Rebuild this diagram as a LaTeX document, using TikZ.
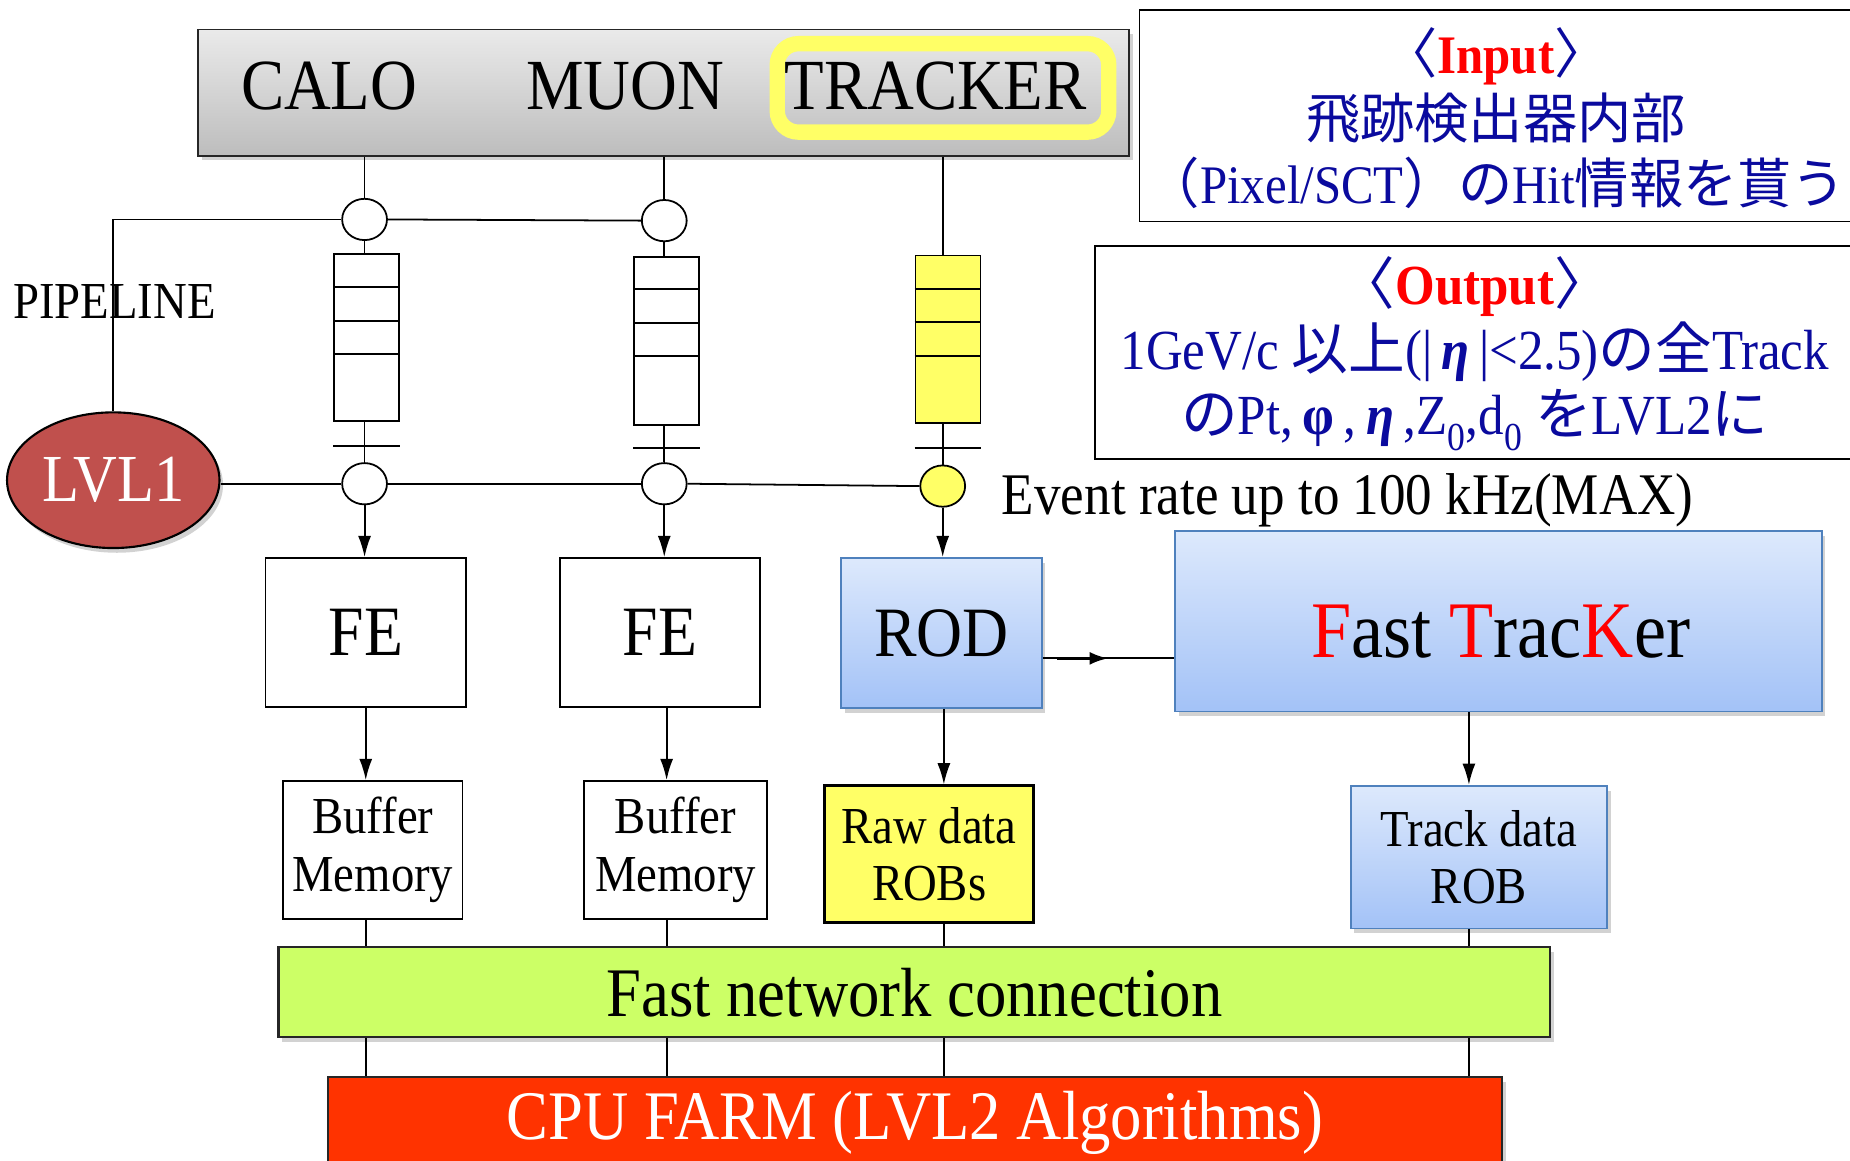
\documentclass[tikz,border=0pt]{standalone}
\usepackage{fontspec}
\setmainfont[FakeStretch=0.9]{Liberation Serif}
\newfontfamily\cjk{Noto Sans CJK JP}
\usetikzlibrary{shapes.geometric,arrows.meta,shadows,calc}
\definecolor{grayA}{HTML}{EAEAEA}
\definecolor{grayB}{HTML}{BDBDBD}
\definecolor{ylw}{HTML}{FFFF66}
\definecolor{lvlred}{HTML}{C0504D}
\definecolor{blueA}{HTML}{DDE9FC}
\definecolor{blueB}{HTML}{A3C2F7}
\definecolor{blueline}{HTML}{4F81BD}
\definecolor{netgreen}{HTML}{CCFF66}
\definecolor{cpured}{HTML}{FF3300}
\definecolor{navy}{HTML}{0A0A9E}
\begin{document}
\begin{tikzpicture}[x=1pt,y=-1pt,
  ln/.style={line width=1.5},
  arr/.style={line width=1.6,-{Latex[length=18pt,width=11pt]}},
  shd/.style={drop shadow={shadow xshift=3pt,shadow yshift=-4pt,opacity=0.35}},
  graybox/.style={draw=black!85,line width=1.6,top color=grayA,bottom color=grayB,shd,inner sep=0},
  wbox/.style={draw,line width=1.6,fill=white,inner sep=0},
  bbox/.style={draw=blueline,line width=1.6,top color=blueA,bottom color=blueB,shd,inner sep=0},
  circ/.style={ellipse,draw,line width=1.5,fill=white,minimum width=38,minimum height=35,inner sep=0},
  pipe/.style={draw,line width=1.5,fill=white,minimum width=55,minimum height=142,inner sep=0},
  bluetxt/.style={text=navy,align=center,font=\fontsize{46}{55}\selectfont},
  txtA/.style={font=\fontsize{61}{70}\selectfont},
  txtB/.style={font=\fontsize{44}{49}\selectfont,align=center},
]
\useasboundingbox (0,0) rectangle (1568,984);
\fill[white] (0,0) rectangle (1568,984);

% column coordinates
\coordinate (x1) at (310,0);
\coordinate (x2) at (565,0);
\coordinate (x3) at (800,0);
\coordinate (x4) at (1245,0);

% top detector box
\node[graybox,minimum width=789,minimum height=107] (top) at (562.5,78.5) {};
\node[draw=ylw,line width=13,rounded corners=18,minimum width=281,minimum height=75,inner sep=0] (trkhl) at (799.25,74.5) {};
\node[txtA,anchor=base] (calo) at (279,93) {CALO};
\node[txtA,anchor=base] (muon) at (530,93) {MUON};
\node[txtA,anchor=base] (trk) at (793,93) {TRACKER};

% input / output boxes
\node[draw,line width=1.5,minimum width=625,minimum height=179,anchor=north west] (inbox) at (965,8) {};
\node[bluetxt] (intext) at (1268,100) {{\cjk 〈}\textcolor{red}{\textbf{Input}}{\cjk 〉}\\
{\cjk 飛跡検出器内部}\\
{\cjk （}Pixel/SCT{\cjk ）の}Hit{\cjk 情報を貰う}};
\node[draw,line width=1.5,minimum width=660,minimum height=180,anchor=north west] (outbox) at (927,208) {};
\node[bluetxt,font=\fontsize{48}{55}\selectfont] (outtext) at (1250,300) {{\cjk 〈}\textcolor{red}{\textbf{Output}}{\cjk 〉}\\
1GeV/c {\cjk 以上}(|\,\textbf{\textit{η}}\,|<2.5){\cjk の全}Track\\
{\cjk の}Pt,\,\textbf{φ}\,,\,\textbf{\textit{η}}\,,Z\textsubscript{0},d\textsubscript{0} {\cjk を}LVL2{\cjk に}};

% pipeline circles and buffers
\node[circ] (c1u) at (309,186) {};
\node[circ] (c2u) at (563,187) {};
\node[pipe] (p1) at (310.5,286) {};
\node[pipe] (p2) at (565,289) {};
\node[pipe,fill=ylw] (p3) at (803.5,287.5) {};
\node[circ] (c1d) at (309,410) {};
\node[circ] (c2d) at (563,410) {};
\node[circ,fill=ylw] (c3d) at (799,412) {};

\foreach \yy in {243,272,300} \draw[ln] (p1.west |- 0,\yy) -- (p1.east |- 0,\yy);
\foreach \yy in {245,274,302} \draw[ln] (p2.west |- 0,\yy) -- (p2.east |- 0,\yy);
\foreach \yy in {245,273,302} \draw[ln] (p3.west |- 0,\yy) -- (p3.east |- 0,\yy);
\draw[ln] (p1.west |- 0,378) -- (p1.east |- 0,378);
\draw[ln] (p2.west |- 0,380) -- (p2.east |- 0,380);
\draw[ln] (p3.west |- 0,380) -- (p3.east |- 0,380);

% LVL1
\node[ellipse,draw,line width=1.8,fill=lvlred,shd,minimum width=170,minimum height=115,text=white,font=\fontsize{57}{60}\selectfont] (lvl1) at (96,407) {LVL1};
\node[anchor=base west,inner sep=0,font=\fontsize{44}{46}\selectfont] (pipel) at (11,270) {PIPELINE};
\node[anchor=base west,inner sep=0,font=\fontsize{50}{55}\selectfont] (rate) at (849,436) {Event rate up to 100 kHz(MAX)};

% FE / ROD / FTK
\node[wbox,minimum width=170,minimum height=126,font=\fontsize{60}{60}\selectfont] (fe1) at (310,536) {FE};
\node[wbox,minimum width=169,minimum height=126,font=\fontsize{60}{60}\selectfont] (fe2) at (559.5,536) {FE};
\node[bbox,minimum width=170,minimum height=127,font=\fontsize{60}{60}\selectfont] (rod) at (798,536.5) {ROD};
\node[bbox,minimum width=548,minimum height=153] (ftk) at (1270,526.5) {};
\node[font=\fontsize{68}{70}\selectfont] (ftktxt) at (1272,535) {\textcolor{red}{F}ast \textcolor{red}{T}rac\textcolor{red}{K}er};

% buffers
\node[wbox,minimum width=152,minimum height=117,txtB] (buf1) at (316,720.5) {Buffer\\Memory};
\node[wbox,minimum width=155,minimum height=117,txtB] (buf2) at (572.5,720.5) {Buffer\\Memory};
\node[draw,line width=2.2,fill=ylw,minimum width=177,minimum height=116,inner sep=0,txtB] (raw) at (787.5,724) {Raw data\\ROBs};
\node[bbox,minimum width=217,minimum height=121,txtB] (trkrob) at (1253.5,726.5) {Track data\\ROB};

% network and CPU farm
\node[draw=black!85,line width=1.8,fill=netgreen,shd,minimum width=1078,minimum height=76,inner sep=0,font=\fontsize{59}{60}\selectfont] (net) at (775,841) {Fast network connection};
\node[draw=black!85,line width=1.5,fill=cpured,shd,minimum width=995,minimum height=95,inner sep=0,anchor=north] (cpu) at (775.5,912) {};
\node[text=white,font=\fontsize{59}{60}\selectfont] (cputxt) at (775.5,952) {CPU FARM (LVL2 Algorithms)};

% connectors top
\draw[ln] (c1u |- top.south) -- (c1u.north);
\draw[ln] (c2u |- top.south) -- (c2u.north);
\draw[ln] (c3d |- top.south) -- (c3d |- p3.north);
\draw[ln] (c1u.south) -- (c1u |- p1.north);
\draw[ln] (c2u.south) -- (c2u |- p2.north);
\draw[ln] (c1d |- p1.south) -- (c1d.north);
\draw[ln] (c2d |- p2.south) -- (c2d.north);
\draw[ln] (c3d |- p3.south) -- (c3d.north);
\draw[ln] (lvl1.north) |- (c1u.west);
\draw[ln] (c1u.east) -- (c2u.west);
\draw[ln] (lvl1.east |- c1d) -- (c1d.west);
\draw[ln] (c1d.east) -- (c2d.west);
\draw[ln] (c2d.east) -- (c3d.west);

% arrows down
\draw[arr] (c1d.south) -- (c1d |- fe1.north);
\draw[arr] (c2d.south) -- (c2d |- fe2.north);
\draw[arr] (c3d.south) -- (c3d |- rod.north);
\draw[arr] (x1 |- fe1.south) -- (x1 |- buf1.north);
\draw[arr] (x2 |- fe2.south) -- (x2 |- buf2.north);
\draw[arr] (x3 |- rod.south) -- (x3 |- raw.north);
\draw[arr] (x4 |- ftk.south) -- (x4 |- trkrob.north);

% ROD -> FTK
\coordinate (rodout) at ([yshift=-21.5pt]rod.east);
\draw[ln] (rodout) -- (rodout -| ftk.west);
\draw[line width=2.8,-{Latex[length=16pt,width=11pt]}] ($(rodout)!0.11!(rodout -| ftk.west)$) -- ($(rodout)!0.5!(rodout -| ftk.west)$);

% to network and CPU
\draw[ln] (x1 |- buf1.south) -- (x1 |- net.north);
\draw[ln] (x2 |- buf2.south) -- (x2 |- net.north);
\draw[ln] (x3 |- raw.south) -- (x3 |- net.north);
\draw[ln] (x4 |- trkrob.south) -- (x4 |- net.north);
\draw[ln] (x1 |- net.south) -- (x1 |- cpu.north);
\draw[ln] (x2 |- net.south) -- (x2 |- cpu.north);
\draw[ln] (x3 |- net.south) -- (x3 |- cpu.north);
\draw[ln] (x4 |- net.south) -- (x4 |- cpu.north);
\end{tikzpicture}
\end{document}
